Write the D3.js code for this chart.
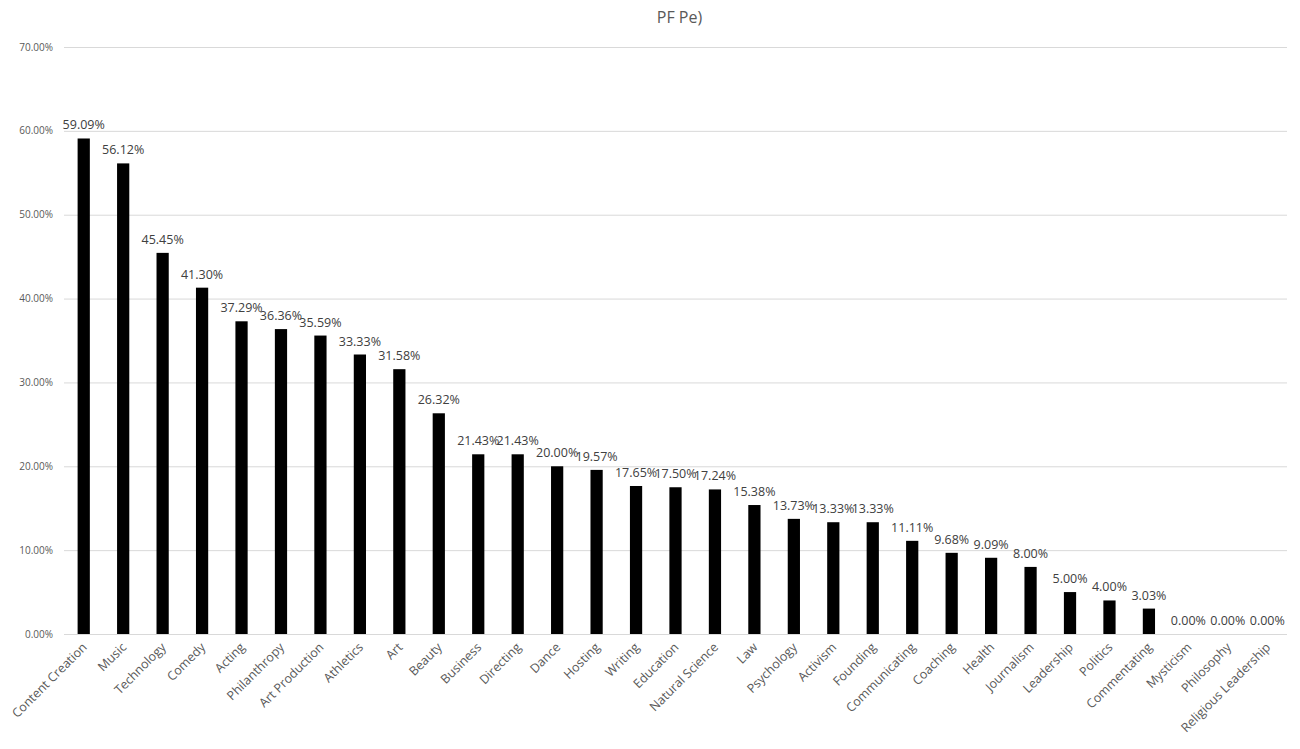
<!DOCTYPE html>
<html>
<head>
<meta charset="utf-8">
<script src="https://cdn.jsdelivr.net/npm/d3@7"></script>
<style>
  body { margin: 0; background: #fff; }
  text { font-family: "Open Sans", "Liberation Sans", sans-serif; }
</style>
</head>
<body>
<div id="chart"></div>
<script>
const categories = ["Content Creation", "Music", "Technology", "Comedy", "Acting", "Philanthropy",
  "Art Production", "Athletics", "Art", "Beauty", "Business", "Directing", "Dance", "Hosting",
  "Writing", "Education", "Natural Science", "Law", "Psychology", "Activism", "Founding",
  "Communicating", "Coaching", "Health", "Journalism", "Leadership", "Politics", "Commentating",
  "Mysticism", "Philosophy", "Religious Leadership"];
const values = [59.09, 56.12, 45.45, 41.30, 37.29, 36.36, 35.59, 33.33, 31.58, 26.32, 21.43,
  21.43, 20.00, 19.57, 17.65, 17.50, 17.24, 15.38, 13.73, 13.33, 13.33, 11.11, 9.68, 9.09,
  8.00, 5.00, 4.00, 3.03, 0, 0, 0];
const yTicks = [0, 10, 20, 30, 40, 50, 60, 70];
const title = "PF Pe)";

const width = 1300, height = 749;
const margin = { top: 47, right: 13, bottom: 115, left: 64 };

const svg = d3.select("#chart").append("svg")
  .attr("width", width).attr("height", height);

const x = d3.scaleBand()
  .domain(categories)
  .range([margin.left, width - margin.right])
  .paddingInner(0.69).paddingOuter(0.345);

const y = d3.scaleLinear()
  .domain([0, 70])
  .range([height - margin.bottom, margin.top]);

// gridlines
svg.append("g")
  .selectAll("line")
  .data(yTicks)
  .join("line")
  .attr("x1", margin.left).attr("x2", width - margin.right)
  .attr("y1", d => y(d) + 0.5).attr("y2", d => y(d) + 0.5)
  .attr("stroke", "#d9d9d9").attr("stroke-width", 1);

// y axis labels
svg.append("g")
  .selectAll("text")
  .data(yTicks)
  .join("text")
  .attr("x", 53).attr("y", d => y(d))
  .attr("dy", "0.35em")
  .attr("text-anchor", "end")
  .attr("font-size", 10)
  .attr("fill", "#595959")
  .text(d => d.toFixed(2) + "%");

// bars
svg.append("g")
  .selectAll("rect")
  .data(values)
  .join("rect")
  .attr("x", (d, i) => x(categories[i]))
  .attr("width", x.bandwidth())
  .attr("y", d => y(d))
  .attr("height", d => y(0) - y(d))
  .attr("fill", "#000");

// data labels
svg.append("g")
  .selectAll("text")
  .data(values)
  .join("text")
  .attr("x", (d, i) => x(categories[i]) + x.bandwidth() / 2)
  .attr("y", d => y(d) - 9)
  .attr("text-anchor", "middle")
  .attr("font-size", 12.5)
  .attr("fill", "#404040")
  .text(d => d.toFixed(2) + "%");

// x labels rotated
svg.append("g")
  .selectAll("text")
  .data(categories)
  .join("text")
  .attr("transform", d => `translate(${x(d) + x.bandwidth() / 2 + 4},${y(0) + 14}) rotate(-45)`)
  .attr("text-anchor", "end")
  .attr("font-size", 12.5)
  .attr("fill", "#595959")
  .text(d => d);

// title
svg.append("text")
  .attr("x", (margin.left + width - margin.right) / 2 + 4)
  .attr("y", 23)
  .attr("text-anchor", "middle")
  .attr("font-size", 16)
  .attr("fill", "#595959")
  .text(title);
</script>
</body>
</html>
